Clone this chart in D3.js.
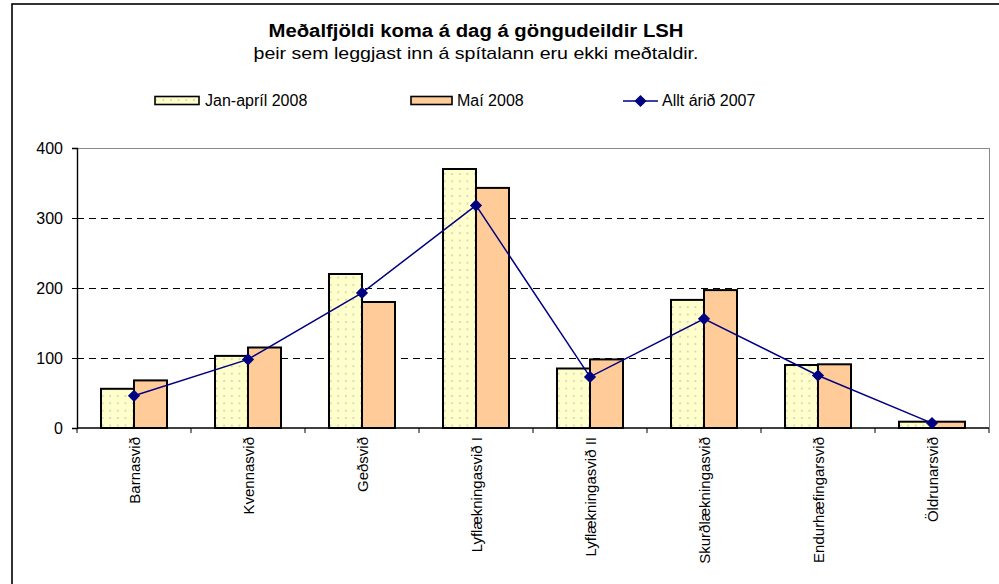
<!DOCTYPE html>
<html>
<head>
<meta charset="utf-8">
<script src="https://cdn.jsdelivr.net/npm/d3@7"></script>
<style>
  html, body { margin: 0; padding: 0; background: #fff; }
  svg { display: block; font-family: "Liberation Sans", Arial, sans-serif; }
</style>
</head>
<body>
<svg id="chart" width="999" height="584"></svg>
<script>
const categories = ["Barnasvið","Kvennasvið","Geðsvið","Lyflækningasvið I","Lyflækningasvið II","Skurðlækningasvið","Endurhæfingarsvið","Öldrunarsvið"];
const janApr2008 = [56, 103, 220, 370, 85, 183, 90, 9];
const mai2008 = [68, 115, 180, 343, 98, 197, 91, 9];
const allt2007 = [46, 98, 193, 318, 73, 156, 75, 7];
const seriesNames = ["Jan-apríl 2008", "Maí 2008", "Allt árið 2007"];
const yTicks = [0, 100, 200, 300, 400];
const titleText = "Meðalfjöldi koma á dag á göngudeildir LSH";
const subtitleText = "þeir sem leggjast inn á spítalann eru ekki meðtaldir.";

const svg = d3.select("#chart");
const plot = { left: 77, right: 989, top: 148, bottom: 428 };

const defs = svg.append("defs");
const pat = defs.append("pattern").attr("id", "dots").attr("patternUnits", "userSpaceOnUse")
  .attr("width", 7.6).attr("height", 7.4);
pat.append("rect").attr("width", 7.6).attr("height", 7.4).attr("fill", "#FFFFCC");
pat.append("circle").attr("cx", 3.8).attr("cy", 3.7).attr("r", 0.9).attr("fill", "#c4c4b4");

// outer frame
svg.append("rect").attr("x", 12).attr("y", 4).attr("width", 1100).attr("height", 700)
  .attr("fill", "#fff").attr("stroke", "#000").attr("stroke-width", 1.6);

// titles
svg.append("text").attr("x", 476).attr("y", 37).attr("text-anchor", "middle")
  .attr("font-size", 18).attr("font-weight", "bold").attr("fill", "#000")
  .attr("textLength", 415).attr("lengthAdjust", "spacingAndGlyphs").text(titleText);
svg.append("text").attr("x", 476).attr("y", 59).attr("text-anchor", "middle")
  .attr("font-size", 17).attr("fill", "#000")
  .attr("textLength", 445).attr("lengthAdjust", "spacingAndGlyphs").text(subtitleText);

// scales
const x = d3.scaleBand().domain(categories).range([plot.left, plot.right]).padding(0);
const x1 = d3.scaleBand().domain([0, 1]).range([0, x.bandwidth()]).paddingInner(0).paddingOuter(0.727);
const y = d3.scaleLinear().domain([0, 400]).range([plot.bottom, plot.top]);

// gridlines
svg.append("g").selectAll("line").data(yTicks.filter(t => t > 0 && t < 400)).join("line")
  .attr("x1", plot.left).attr("x2", plot.right)
  .attr("y1", d => y(d) + 0.5).attr("y2", d => y(d) + 0.5)
  .attr("stroke", "#000").attr("stroke-width", 1).attr("stroke-dasharray", "7,5")
  .attr("shape-rendering", "crispEdges");

// plot area border (top, right)
svg.append("path")
  .attr("d", `M${plot.left},${y(400) + 0.5}H${plot.right + 0.5}V${plot.bottom}`)
  .attr("fill", "none").attr("stroke", "#888").attr("stroke-width", 1)
  .attr("shape-rendering", "crispEdges");

// bars
const barData = [];
categories.forEach((c, i) => {
  barData.push({ c, s: 0, v: janApr2008[i] });
  barData.push({ c, s: 1, v: mai2008[i] });
});
svg.append("g").selectAll("rect").data(barData).join("rect")
  .attr("x", d => x(d.c) + x1(d.s))
  .attr("y", d => y(d.v))
  .attr("width", x1.bandwidth())
  .attr("height", d => y(0) - y(d.v))
  .attr("fill", d => d.s === 0 ? "url(#dots)" : "#FFCC99")
  .attr("stroke", "#000").attr("stroke-width", 2);

// y axis
const yAxis = d3.axisLeft(y).tickValues(yTicks).tickSize(5).tickPadding(9).tickFormat(d3.format("d"));
const gy = svg.append("g").attr("transform", `translate(${plot.left},0)`).call(yAxis);
gy.select(".domain").attr("stroke", "#000").attr("stroke-width", 1.4);
gy.selectAll(".tick line").attr("stroke", "#000");
gy.selectAll(".tick text").attr("font-size", 16).attr("font-family", "Liberation Sans, Arial, sans-serif").attr("fill", "#000");

// x axis line and ticks at boundaries
svg.append("line").attr("x1", plot.left).attr("x2", plot.right).attr("y1", y(0)).attr("y2", y(0))
  .attr("stroke", "#000").attr("stroke-width", 1.6);
const bounds = categories.map(c => x(c)).concat([plot.right]);
svg.append("g").selectAll("line").data(bounds).join("line")
  .attr("x1", d => d).attr("x2", d => d).attr("y1", y(0)).attr("y2", y(0) + 5)
  .attr("stroke", "#000").attr("stroke-width", 1);

// category labels
svg.append("g").selectAll("text").data(categories).join("text")
  .attr("transform", d => `translate(${x(d) + x.bandwidth() / 2 + 1},437) rotate(-90)`)
  .attr("text-anchor", "end").attr("dy", "0.35em")
  .attr("font-size", 15).attr("fill", "#000").text(d => d);

// line series
const cx = c => x(c) + x.bandwidth() / 2;
const line = d3.line().x((d, i) => cx(categories[i])).y(d => y(d));
svg.append("path").datum(allt2007).attr("d", line)
  .attr("fill", "none").attr("stroke", "#000080").attr("stroke-width", 1.5);
const diamond = d3.symbol().type(d3.symbolDiamond2).size(95);
svg.append("g").selectAll("path").data(allt2007).join("path")
  .attr("transform", (d, i) => `translate(${cx(categories[i])},${y(d)})`)
  .attr("d", diamond).attr("fill", "#000080");

// legend
const lg = svg.append("g");
const ly = 101;
lg.append("rect").attr("x", 155).attr("y", 96.5).attr("width", 44).attr("height", 8)
  .attr("fill", "url(#dots)").attr("stroke", "#000").attr("stroke-width", 1.6);
lg.append("text").attr("x", 205).attr("y", 106).attr("font-size", 16).attr("fill", "#000").text(seriesNames[0]);
lg.append("rect").attr("x", 411).attr("y", 96.5).attr("width", 41).attr("height", 8)
  .attr("fill", "#FFCC99").attr("stroke", "#000").attr("stroke-width", 1.6);
lg.append("text").attr("x", 457).attr("y", 106).attr("font-size", 16).attr("fill", "#000").text(seriesNames[1]);
lg.append("line").attr("x1", 623).attr("x2", 658).attr("y1", ly).attr("y2", ly)
  .attr("stroke", "#000080").attr("stroke-width", 1.5);
lg.append("path").attr("transform", `translate(640.5,${ly})`).attr("d", diamond).attr("fill", "#000080");
lg.append("text").attr("x", 662).attr("y", 106).attr("font-size", 16).attr("fill", "#000").text(seriesNames[2]);
</script>
</body>
</html>
